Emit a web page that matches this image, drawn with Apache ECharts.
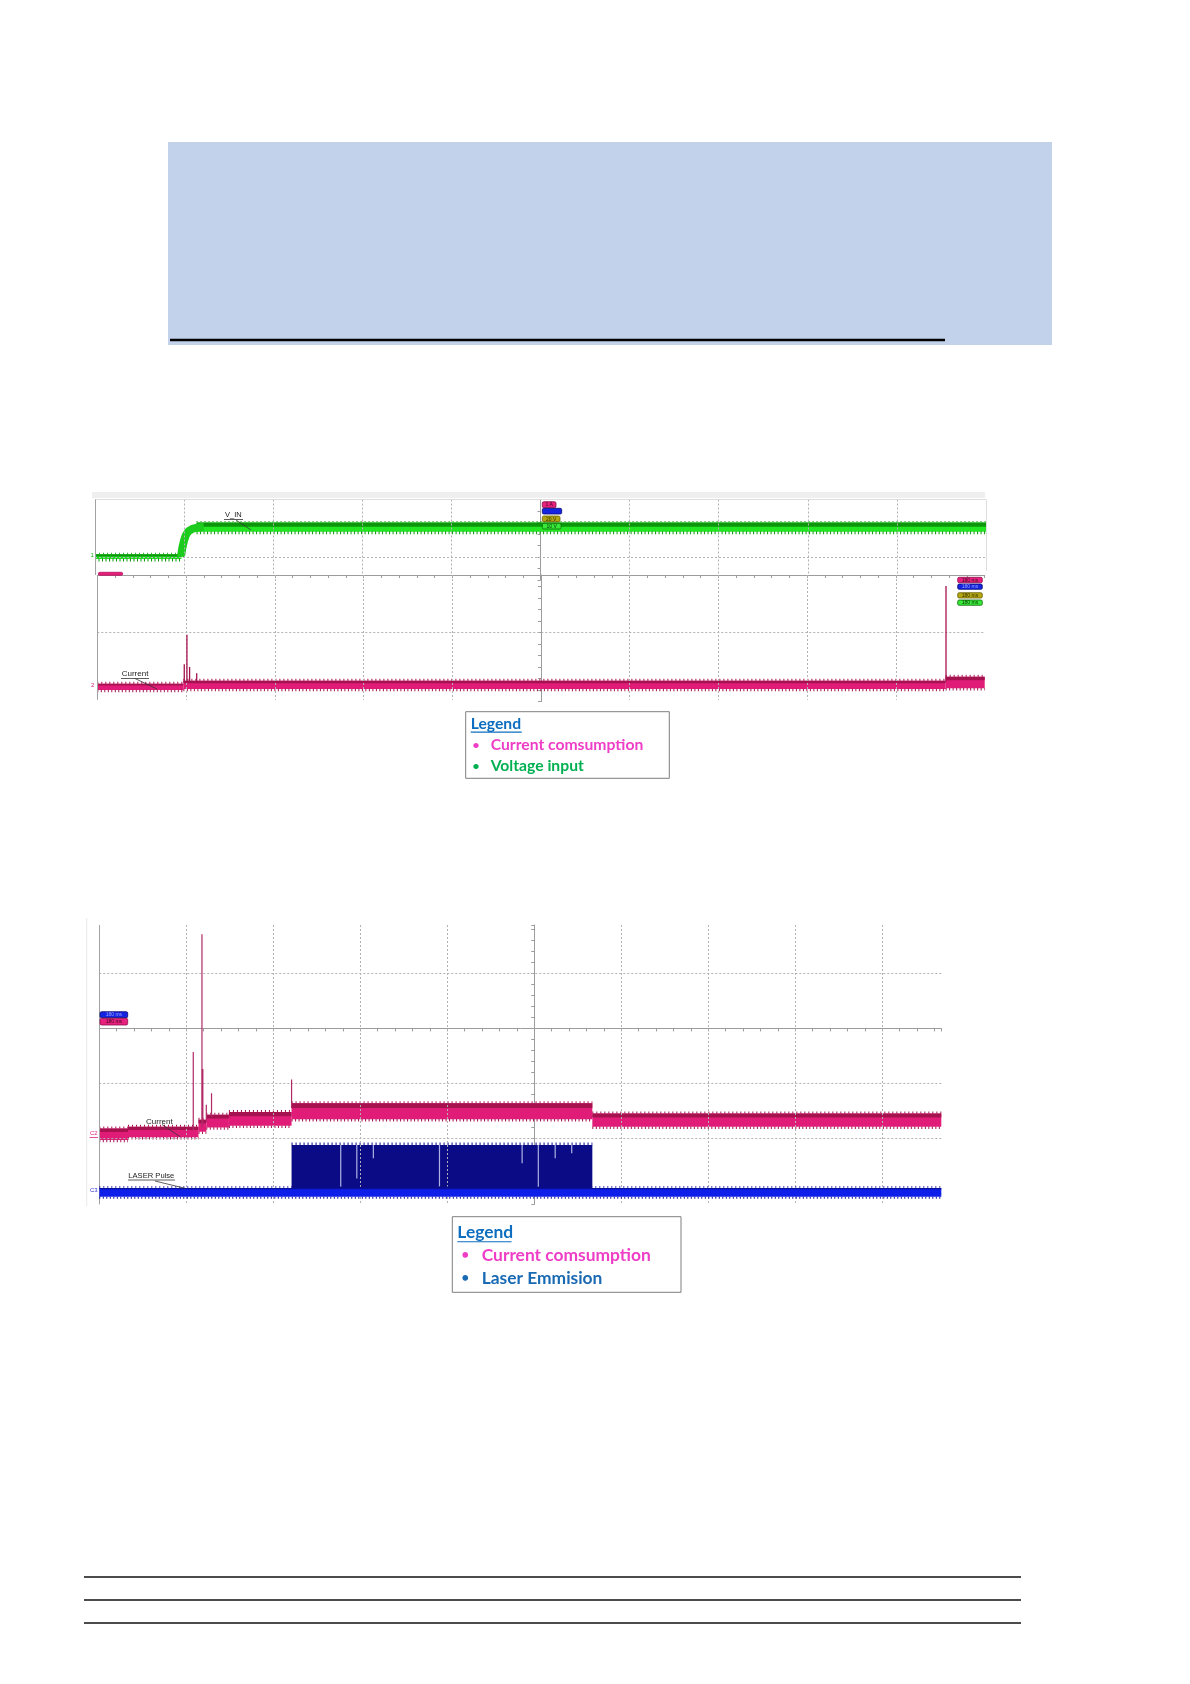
<!DOCTYPE html>
<html><head><meta charset="utf-8">
<script src="https://cdn.jsdelivr.net/npm/echarts@6/dist/echarts.min.js"></script>
<style>html,body{margin:0;padding:0;background:#fff}#c{width:1190px;height:1684px}</style>
</head><body><div id="c"></div>
<script>
// ================= DATA =================
// time axis in scope divisions from the trigger (centre = 0)
const gridDivs = [-4, -3, -2, -1, 1, 2, 3, 4];

// Capture 1, upper panel: V_IN (volts, 10 V/div) -> [t0, t1, low, high]
const vinBands = [[-5, -4.03, -0.35, 0.47], [-3.86, 5, 4.4, 6.0]];
const vinRise = [[-4.035, 0.06], [-4.02, 1.6], [-4.0, 2.9], [-3.98, 3.8], [-3.95, 4.5], [-3.9, 4.95], [-3.84, 5.15], [-3.78, 5.2]];

// Capture 1, lower panel: current (divisions below centre line)
const cur1Bands = [[-5, -4.03, -2.0, -1.89], [-4.03, 4.56, -1.983, -1.838], [4.56, 5, -1.97, -1.77]];
const cur1Spikes = [[-4.02, -1.85, -1.55], [-3.99, -1.85, -1.04], [-3.96, -1.85, -1.6], [-3.88, -1.85, -1.71], [4.564, -1.85, -0.19]];

// Capture 2: current + laser pulse (divisions from centre line)
const cur2Bands = [
  [-5, -4.67, -2.03, -1.82],
  [-4.67, -3.86, -1.98, -1.79],
  [-3.86, -3.77, -1.88, -1.66],
  [-3.77, -3.51, -1.80, -1.57],
  [-3.51, -2.79, -1.77, -1.52],
  [-2.79, 0.667, -1.65, -1.36],
  [0.667, 4.678, -1.79, -1.545]
];
const cur2Spikes = [[-3.92, -1.85, -0.43], [-3.82, -1.8, 1.71], [-3.815, -1.75, -0.74], [-3.81, -1.75, -0.74], [-3.77, -1.7, -1.39], [-3.71, -1.6, -1.18], [-2.79, -1.45, -0.93]];
const laserBase = [[-5, 4.678, -3.06, -2.90]];
const laserBurst = [[-2.79, 0.667, -2.95, -2.12]];
const laserDropouts = [[-2.225, -2.88], [-2.04, -2.73], [-1.85, -2.36], [-1.09, -2.88], [-0.14, -2.45], [0.046, -2.88], [0.24, -2.36], [0.43, -2.27]];

// Legends
const legend1Labels = ['Current comsumption', 'Voltage input'];
const legend1Colors = ['#ee3dc6', '#00b050'];
const legend2Labels = ['Current comsumption', 'Laser Emmision'];
const legend2Colors = ['#ee3dc6', '#1a6ab3'];
const traceLabels1 = ['V_IN', 'Current'];
const traceLabels2 = ['Current', 'LASER Pulse'];

// ================= HELPERS =================
const GRID_DASH = {color: '#b2b2b2', width: 1, type: [2, 2]};
const BORDER = {color: '#a2a2a2', width: 1, type: 'solid'};
const LIGHT = {color: '#dedede', width: 1, type: 'solid'};
function seg(p, q, ls) { return [{coord: p, lineStyle: ls}, {coord: q, lineStyle: ls}]; }

function gridSeries(gi, lines) {
  return {type: 'line', xAxisIndex: gi, yAxisIndex: gi, data: [[0, 0]], symbol: 'none', silent: true, z: 1,
    lineStyle: {width: 0, opacity: 0},
    markLine: {silent: true, symbol: ['none', 'none'], label: {show: false}, animation: false, data: lines}};
}
function bandSeries(gi, data, st) {
  return {
    type: 'custom', xAxisIndex: gi, yAxisIndex: gi, data: data, clip: true, silent: true, z: st.z || 3,
    encode: {x: [0, 1], y: [2, 3]},
    renderItem: function (params, api) {
      const a = api.coord([api.value(0), api.value(3)]);
      const b = api.coord([api.value(1), api.value(2)]);
      const x = a[0], y = a[1], w = b[0] - a[0], h = b[1] - a[1];
      const ch = [{type: 'rect', shape: {x: x, y: y, width: w, height: h}, style: {fill: st.main}}];
      if (st.topFrac) ch.push({type: 'rect', shape: {x: x, y: y, width: w, height: h * st.topFrac}, style: {fill: st.dark}});
      if (st.fringeTop) ch.push({type: 'line', shape: {x1: x, y1: y - 1, x2: x + w, y2: y - 1}, style: {stroke: st.dark, lineWidth: st.fringeTop, lineDash: [1, 3]}});
      if (st.fringeBottom) ch.push({type: 'line', shape: {x1: x, y1: y + h + 1, x2: x + w, y2: y + h + 1}, style: {stroke: st.dark, lineWidth: st.fringeBottom, lineDash: [1, 2.5]}});
      return {type: 'group', children: ch};
    }
  };
}
function spikeSeries(gi, data, color, width) {
  return {type: 'custom', xAxisIndex: gi, yAxisIndex: gi, data: data, clip: true, silent: true, z: 5,
    encode: {x: 0, y: [1, 2]},
    renderItem: function (params, api) {
      const p = api.coord([api.value(0), api.value(1)]), q = api.coord([api.value(0), api.value(2)]);
      return {type: 'line', shape: {x1: p[0], y1: p[1], x2: q[0], y2: q[1]}, style: {stroke: color, lineWidth: width}};
    }};
}
function dropoutSeries(gi, data, top, color) {
  return {type: 'custom', xAxisIndex: gi, yAxisIndex: gi, data: data, clip: true, silent: true, z: 4,
    encode: {x: 0, y: 1},
    renderItem: function (params, api) {
      const p = api.coord([api.value(0), top]), q = api.coord([api.value(0), api.value(1)]);
      return {type: 'line', shape: {x1: p[0], y1: p[1], x2: q[0], y2: q[1]}, style: {stroke: color, lineWidth: 1.2}};
    }};
}
function vGrid(y0, y1) { return gridDivs.map(t => seg([t, y0], [t, y1], GRID_DASH)); }

function txt(text, x, y, font, fill, align, z) {
  return {type: 'text', z: z || 60, style: {text: text, x: x, y: y, font: font, fill: fill,
    align: align || 'left', verticalAlign: 'middle', textAlign: align || 'left', textVerticalAlign: 'middle'}};
}
function ln(x1, y1, x2, y2, stroke, w, z) {
  return {type: 'line', z: z || 60, shape: {x1: x1, y1: y1, x2: x2, y2: y2}, style: {stroke: stroke, lineWidth: w}};
}
function tag(x, y, w, h, fill, stroke, text, tc) {
  const out = [{type: 'rect', z: 70, shape: {x: x, y: y, width: w, height: h, r: 1.5}, style: {fill: fill, stroke: stroke, lineWidth: 0.8}}];
  if (text) out.push(txt(text, x + w / 2, y + h / 2 + 0.3, '5px "Liberation Sans"', tc, 'center', 71));
  return out;
}

// ================= CHART =================
const chart = echarts.init(document.getElementById('c'), null, {renderer: 'canvas'});
const axisLineStyle = {color: '#9c9c9c', width: 1};
function xAx(gi, max, showLine) {
  return {gridIndex: gi, type: 'value', min: -5, max: max, interval: 0.2,
    axisLine: {show: showLine, onZero: true, lineStyle: axisLineStyle},
    axisTick: {show: showLine, length: 3, lineStyle: axisLineStyle},
    axisLabel: {show: false}, splitLine: {show: false}};
}
function yAx(gi, min, max, interval) {
  return {gridIndex: gi, type: 'value', min: min, max: max, interval: interval,
    axisLine: {show: true, onZero: true, lineStyle: axisLineStyle},
    axisTick: {show: true, length: 3, lineStyle: axisLineStyle},
    axisLabel: {show: false}, splitLine: {show: false}};
}

const graphics = [];
// title block
graphics.push({type: 'rect', z: 1, shape: {x: 168, y: 142, width: 884, height: 203}, style: {fill: '#c2d2eb'}});
graphics.push(ln(170, 340, 945, 340, '#000', 2.6, 2));
// capture 1 top strip
graphics.push({type: 'rect', z: 1, shape: {x: 92, y: 492, width: 893, height: 6}, style: {fill: '#efefef'}});
// capture 2 faint edge
graphics.push(ln(86.7, 918, 86.7, 1206, '#e8e8e8', 1, 1));

// trace labels capture 1
graphics.push(txt(traceLabels1[0], 225, 515, '7.5px "Liberation Sans"', '#222'));
graphics.push(ln(224, 519.5, 243, 519.5, '#333', 0.8), ln(236, 520, 251, 530, '#333', 0.8));
graphics.push(txt(traceLabels1[1], 121.7, 674, '8px "Liberation Sans"', '#222'));
graphics.push(ln(121, 678.5, 149, 678.5, '#333', 0.8), ln(135, 678.5, 157, 689, '#333', 0.8));
graphics.push(txt('1', 90.5, 555, '6px "Liberation Sans"', '#16b016'));
graphics.push(txt('2', 91, 685, '6px "Liberation Sans"', '#e0207e'));
// trace labels capture 2
graphics.push(txt(traceLabels2[0], 146, 1121.7, '8px "Liberation Sans"', '#222'));
graphics.push(ln(162, 1124.5, 180, 1136.7, '#333', 0.8));
graphics.push(txt(traceLabels2[1], 128.3, 1176, '7.6px "Liberation Sans"', '#222'));
graphics.push(ln(128, 1180, 175, 1180, '#333', 0.8), ln(155, 1181, 185, 1188.3, '#333', 0.8));
graphics.push(txt('C2', 90, 1133.5, '6px "Liberation Sans"', '#e0207e'), ln(89.5, 1137.5, 98, 1137.5, '#e0207e', 0.8));
graphics.push(txt('C3', 90, 1190, '6px "Liberation Sans"', '#3030d0'));

// scope tags
[].concat(
  tag(542.3, 501.7, 13.7, 6, '#e8207e', '#8a1048', '1 A', '#3a0a1f'),
  tag(542.3, 508.3, 19.4, 5.7, '#1424e0', '#0a0a70', '', '#fff'),
  tag(542.3, 516, 17.7, 5.7, '#b2a612', '#6a6000', '20 V', '#332f00'),
  tag(542.3, 523.3, 18.7, 5.7, '#38e838', '#0a6a0a', '10 V', '#063306'),
  tag(957.7, 577.3, 24.6, 5.4, '#e8207e', '#8a1048', '180 ms', '#3a0a1f'),
  tag(957.7, 584, 24.6, 5.3, '#1424e0', '#0a0a70', '180 ms', '#9aa0ff'),
  tag(957.7, 592.7, 24.6, 5.3, '#b2a612', '#6a6000', '180 ms', '#332f00'),
  tag(957.7, 600, 24.6, 5.3, '#38e838', '#0a6a0a', '180 ms', '#063306'),
  tag(98.3, 572.3, 24.4, 3, '#e8207e', '#b0105a', '', '#fff'),
  tag(100, 1011.7, 27.7, 6, '#1424e0', '#0a0a70', '180 ms', '#9aa0ff'),
  tag(100, 1018.3, 27.7, 6.7, '#e8207e', '#8a1048', '180 ms', '#3a0a1f')
).forEach(g => graphics.push(g));

// legend boxes
function legendBox(x, y, w, h, fs, titleY, titleW, rowY, bulletX, textX, labels, colors) {
  graphics.push({type: 'rect', z: 1, shape: {x: x, y: y, width: w, height: h}, style: {fill: '#fff', stroke: '#7f7f7f', lineWidth: 1}});
  graphics.push(txt('Legend', x + 5, titleY, 'bold ' + fs + 'px Lato', '#0d6ebf'));
  graphics.push(ln(x + 5, titleY + fs * 0.52, x + 5 + titleW, titleY + fs * 0.52, '#0d6ebf', 1.2));
  labels.forEach((lab, i) => {
    graphics.push(txt('•', bulletX, rowY[i], 'bold ' + Math.round(fs * 0.75) + 'px Lato', colors[i]));
    graphics.push(txt(lab, textX, rowY[i], 'bold ' + fs + 'px Lato', colors[i]));
  });
}
legendBox(465.7, 711.7, 203.6, 66.6, 15.7, 724, 51, [745, 765.7], 472.5, 490.7, legend1Labels, legend1Colors);
legendBox(452.3, 1216.7, 228.7, 75.6, 17.4, 1232.7, 54.3, [1255, 1278.3], 461.5, 481.7, legend2Labels, legend2Colors);

// footer rules
[1577, 1600, 1623].forEach(y => graphics.push(ln(84, y, 1021, y, '#111', 1.4, 2)));

const option = {
  animation: false,
  backgroundColor: '#ffffff',
  grid: [
    {left: 95, top: 499.5, width: 891, height: 80.5, containLabel: false, outerBoundsMode: 'none'},
    {left: 97.3, top: 575, width: 887.4, height: 126.5, containLabel: false, outerBoundsMode: 'none'},
    {left: 99.3, top: 925, width: 842, height: 279.4, containLabel: false, outerBoundsMode: 'none'}
  ],
  xAxis: [xAx(0, 5, false), xAx(1, 5, true), xAx(2, 4.678, true)],
  yAxis: [yAx(0, -4, 10, 2), yAx(1, -2.2, 0, 0.2), yAx(2, -3.2, 1.88, 0.2)],
  graphic: {elements: graphics},
  series: [
    gridSeries(0, [].concat(vGrid(10, -3.13), [
      seg([-5, 0], [5, 0], GRID_DASH),
      seg([-5, 10], [5, 10], LIGHT),
      seg([-5, 10], [-5, -3.13], BORDER),
      seg([5, 10], [5, -2.4], LIGHT)
    ])),
    bandSeries(0, vinBands, {main: '#22e622', dark: '#0c960c', topFrac: 0.45, fringeBottom: 3, fringeTop: 1}),
    {type: 'line', xAxisIndex: 0, yAxisIndex: 0, data: vinRise, symbol: 'none', silent: true, z: 4,
      lineStyle: {color: '#1ccc1c', width: 8, cap: 'butt', join: 'round'}},
    gridSeries(1, [].concat(vGrid(0, -2.17), [
      seg([-5, -1], [5, -1], GRID_DASH),
      seg([-5, 0], [-5, -2.17], BORDER)
    ])),
    bandSeries(1, cur1Bands, {main: '#e01c78', dark: '#a5124f', topFrac: 0.3, fringeTop: 2, fringeBottom: 2.5}),
    spikeSeries(1, cur1Spikes, '#a5124f', 1.3),
    gridSeries(2, [].concat(vGrid(1.88, -3.2), [
      seg([-5, 1], [4.678, 1], GRID_DASH),
      seg([-5, -1], [4.678, -1], GRID_DASH),
      seg([-5, -2], [4.678, -2], GRID_DASH),
      seg([-5, -3], [4.678, -3], GRID_DASH),
      seg([-5, 1.88], [-5, -3.2], BORDER)
    ])),
    bandSeries(2, laserBurst, {main: '#0b0b86', dark: '#0b0b86', topFrac: 0, fringeTop: 3}),
    dropoutSeries(2, laserDropouts, laserBurst[0][3], '#aeb2e4'),
    bandSeries(2, laserBase, {main: '#0d1fe8', dark: '#0a0f9a', topFrac: 0.15, fringeTop: 1.5, fringeBottom: 2, z: 5}),
    bandSeries(2, cur2Bands, {main: '#e01c78', dark: '#a5124f', topFrac: 0.3, fringeTop: 2, fringeBottom: 2.5}),
    spikeSeries(2, cur2Spikes, '#b02a66', 1.2)
  ]
};
chart.setOption(option);
</script>
</body></html>
